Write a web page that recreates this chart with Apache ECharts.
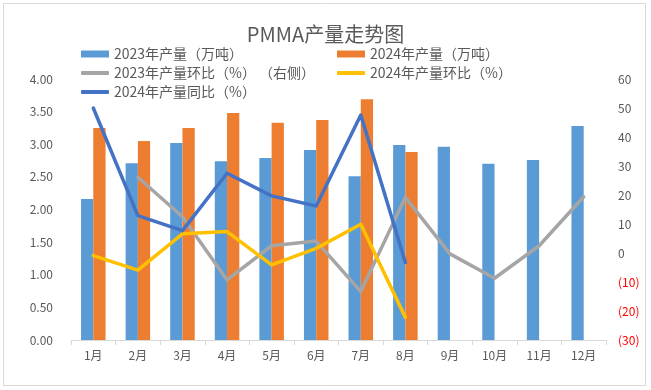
<!DOCTYPE html>
<html><head><meta charset="utf-8">
<script src="https://cdn.jsdelivr.net/npm/echarts@6/dist/echarts.min.js"></script>
<style>html,body{margin:0;padding:0;background:#fff}#c{width:651px;height:390px}</style>
</head><body><div id="c"></div>
<script>
const categories = ['1月','2月','3月','4月','5月','6月','7月','8月','9月','10月','11月','12月'];
const prod2023 = [2.16,2.71,3.02,2.74,2.79,2.91,2.51,2.99,2.96,2.70,2.76,3.28];
const prod2024 = [3.25,3.05,3.25,3.48,3.33,3.37,3.69,2.88,null,null,null,null];
const mom2023 = [null,26.1,12.5,-9.3,2.5,4.1,-13.3,19.2,-0.3,-8.7,2.5,19.4];
const mom2024 = [-0.9,-5.9,6.6,7.4,-4.1,1.6,9.9,-22.2,null,null,null,null];
const yoy2024 = [50.0,12.9,7.7,27.5,19.7,16.2,47.6,-3.3,null,null,null,null];
const leftTicks = {min:0,max:4,interval:0.5};
const rightTicks = {min:-30,max:60,interval:10};
const names = ['2023年产量（万吨）','2024年产量（万吨）','2023年产量环比（%） （右侧）','2024年产量环比（%）','2024年产量同比（%）'];

const font = 'Noto Sans CJK SC';
const txt = '#595959';
const chart = echarts.init(document.getElementById('c'), null, {renderer:'canvas'});
function lg(name, left, top, h){
  return {data:[name], left:left, top:top, itemWidth:28, itemHeight:h, icon: h>5?'rect':'roundRect', itemGap:4,
    textStyle:{color:txt, fontSize:14, fontFamily:font}, padding:0, selectedMode:false};
}
chart.setOption({
  backgroundColor:'#fff',
  animation:false,
  title:{text:'PMMA产量走势图', left:'center', top:19, textStyle:{color:txt, fontSize:20, fontWeight:'normal', fontFamily:font}},
  graphic:[{type:'rect', shape:{x:3.5,y:3.5,width:642,height:382}, style:{fill:null, stroke:'#d9d9d9', lineWidth:1}, silent:true}],
  legend:[
    lg(names[0],81,47,7),
    lg(names[1],337,47,7),
    lg(names[2],81,66,4),
    lg(names[3],337,66,4),
    lg(names[4],81,85,4)
  ],
  grid:{left:71, right:45, top:79, bottom:50},
  xAxis:{type:'category', data:categories,
    axisLine:{lineStyle:{color:'#d9d9d9'}},
    axisTick:{show:true, length:5, lineStyle:{color:'#d9d9d9'}},
    axisLabel:{color:txt, fontSize:12, fontFamily:font, margin:9}},
  yAxis:[
    {type:'value', min:leftTicks.min, max:leftTicks.max, interval:leftTicks.interval,
      splitLine:{show:false}, axisLine:{show:false}, axisTick:{show:false},
      axisLabel:{color:txt, fontSize:12, fontFamily:font, margin:18, formatter:v=>v.toFixed(2)}},
    {type:'value', min:rightTicks.min, max:rightTicks.max, interval:rightTicks.interval,
      splitLine:{show:false}, axisLine:{show:false}, axisTick:{show:false},
      axisLabel:{fontSize:12, fontFamily:font, margin:12,
        formatter:v=> v<0 ? '{r|('+Math.abs(v)+')}' : '{n|'+v+'}',
        rich:{r:{color:'#ff0000', fontSize:12, fontFamily:font}, n:{color:txt, fontSize:12, fontFamily:font}}}}
  ],
  series:[
    {name:names[0], type:'bar', data:prod2023, itemStyle:{color:'#5B9BD5'}, barGap:'0%', barCategoryGap:'45%'},
    {name:names[1], type:'bar', data:prod2024, itemStyle:{color:'#ED7D31'}, barGap:'0%', barCategoryGap:'45%'},
    {name:names[2], type:'line', yAxisIndex:1, data:mom2023, symbol:'none', lineStyle:{color:'#A5A5A5', width:3.5, cap:'round', join:'round'}, itemStyle:{color:'#A5A5A5'}},
    {name:names[3], type:'line', yAxisIndex:1, data:mom2024, symbol:'none', lineStyle:{color:'#FFC000', width:3.5, cap:'round', join:'round'}, itemStyle:{color:'#FFC000'}},
    {name:names[4], type:'line', yAxisIndex:1, data:yoy2024, symbol:'none', lineStyle:{color:'#4472C4', width:3.5, cap:'round', join:'round'}, itemStyle:{color:'#4472C4'}}
  ]
});
</script></body></html>
